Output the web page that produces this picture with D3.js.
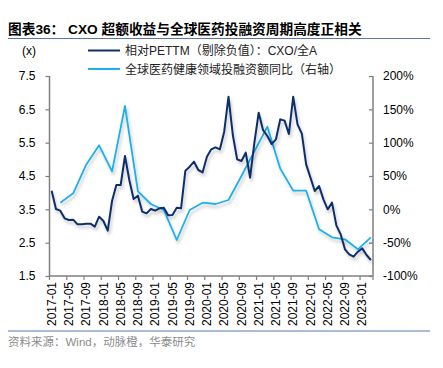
<!DOCTYPE html>
<html>
<head>
    <meta charset="utf-8">
    <title>CXO</title>
    <script src="https://d3js.org/d3.v7.min.js"></script>
    <style>
        body { margin: 0; background: #fff; }
        text { font-family: "Liberation Sans", Arial, "Noto Sans CJK SC", sans-serif; }
    </style>
</head>
<body>
    <svg width="443" height="368" id="mainSvg"></svg>
    <script>
        // months 2017-01 .. 2023-03 (category axis)
        const months = d3.utcMonth.range(new Date(Date.UTC(2017, 0, 1)), new Date(Date.UTC(2023, 3, 1)))
            .map(d3.utcFormat("%Y-%m"));

        // relative PE TTM, CXO / all A, monthly
        const relPE = [
            4.06, 3.51, 3.46, 3.23, 3.18, 3.19, 3.05, 3.05, 3.07, 3.07, 2.98, 3.28,
            3.15, 2.86, 3.75, 4.23, 4.23, 5.10, 4.38, 3.81, 3.91, 3.43, 3.38, 3.51,
            3.46, 3.53, 3.55, 3.32, 3.33, 3.55, 3.53, 4.66, 4.78, 4.93, 4.68, 4.61,
            5.08, 5.30, 5.36, 5.30, 5.83, 6.88, 5.73, 5.00, 4.95, 5.20, 4.45, 5.50,
            6.40, 5.88, 5.70, 5.46, 5.60, 6.20, 6.16, 5.76, 6.88, 6.05, 5.77, 4.85,
            4.45, 4.05, 4.20, 3.80, 3.50, 3.70, 3.02, 2.75, 2.30, 2.15, 2.08, 2.23,
            2.33, 2.13, 1.98
        ];

        // global healthcare financing yoy (right axis), quarterly
        const finMonths = [
            "2017-03", "2017-06", "2017-09", "2017-12", "2018-03", "2018-06", "2018-09", "2018-12",
            "2019-03", "2019-06", "2019-09", "2019-12", "2020-03", "2020-06", "2020-09", "2020-12",
            "2021-03", "2021-06", "2021-09", "2021-12", "2022-03", "2022-06", "2022-09", "2022-12",
            "2023-03"
        ];
        const finYoY = [
            10, 24, 67, 96, 57, 155, 27, 8,
            -1, -46, -1, 10, 8, 14, 50, 87,
            124, 61, 28, 28, -30, -42, -45, -60,
            -42
        ];

        const leftTicks = [1.5, 2.5, 3.5, 4.5, 5.5, 6.5, 7.5];
        const rightTicks = [-100, -50, 0, 50, 100, 150, 200];

        const svg = d3.select("#mainSvg");
        const navy = "#0f2f6b";
        const sky = "#1fb0ea";
        const axisColor = "#7f7f7f";
        const cjk = "'Noto Sans CJK SC', sans-serif";

        const plot = { left: 49.5, right: 373, top: 76, bottom: 276 };

        const x = d3.scaleBand().domain(months).range([plot.left, plot.right]);
        const xc = m => x(m) + x.bandwidth() / 2;
        const yL = d3.scaleLinear().domain([1.5, 7.5]).range([plot.bottom, plot.top]);
        const yR = d3.scaleLinear().domain([-100, 200]).range([plot.bottom, plot.top]);

        const defs = svg.append("defs");
        defs.append("filter").attr("id", "shadow")
            .attr("x", "-10%").attr("y", "-10%").attr("width", "120%").attr("height", "130%")
            .append("feDropShadow")
            .attr("dx", 1.5).attr("dy", 3).attr("stdDeviation", 1.6)
            .attr("flood-color", "#000").attr("flood-opacity", 0.22);

        // title
        svg.append("text")
            .attr("x", 8).attr("y", 34)
            .attr("font-family", cjk)
            .attr("font-size", 13.7).attr("font-weight", "bold").attr("fill", "#000")
            .text("图表36： CXO 超额收益与全球医药投融资周期高度正相关");
        svg.append("line")
            .attr("x1", 8).attr("x2", 430).attr("y1", 38.5).attr("y2", 38.5)
            .attr("stroke", "#5876ad").attr("stroke-width", 1);

        // axes
        const gl = svg.append("g").attr("transform", `translate(${plot.left},0)`)
            .call(d3.axisLeft(yL).tickValues(leftTicks).tickFormat(d3.format(".1f")).tickSize(4).tickPadding(10));
        const gr = svg.append("g").attr("transform", `translate(${plot.right},0)`)
            .call(d3.axisRight(yR).tickValues(rightTicks).tickFormat(d => d + "%").tickSize(-4).tickPadding(10));
        const gb = svg.append("g").attr("transform", `translate(0,${plot.bottom})`)
            .call(d3.axisBottom(x).tickValues(months.filter((m, i) => i % 4 === 0)).tickSize(0).tickPadding(0));

        [gl, gr, gb].forEach(g => {
            g.select(".domain").attr("stroke", axisColor).attr("stroke-width", 1.5);
            g.selectAll(".tick line").attr("stroke", axisColor).attr("stroke-width", 1.2);
            g.selectAll(".tick text").attr("fill", "#000").attr("font-size", 12)
                .attr("font-family", "'Liberation Sans', Arial, sans-serif");
        });
        gl.select(".domain").attr("d", `M0,${plot.top}V${plot.bottom}`);
        gr.select(".domain").attr("d", `M0,${plot.top}V${plot.bottom}`);
        gb.select(".domain").attr("d", `M${plot.left},0H${plot.right}`);

        gb.selectAll(".tick text")
            .attr("transform", "rotate(-90)")
            .attr("text-anchor", "end")
            .attr("x", -6).attr("y", 0).attr("dy", "0.35em");

        // category boundary ticks on bottom axis
        gb.selectAll(".boundTick")
            .data(months.filter((m, i) => i % 4 === 0))
            .join("line")
            .attr("class", "boundTick")
            .attr("x1", d => x(d)).attr("x2", d => x(d))
            .attr("y1", 0).attr("y2", 4)
            .attr("stroke", axisColor).attr("stroke-width", 1.2);
        gb.append("line")
            .attr("x1", plot.right).attr("x2", plot.right).attr("y1", 0).attr("y2", 4)
            .attr("stroke", axisColor).attr("stroke-width", 1.2);

        // lines
        const finData = finMonths.map((m, i) => ({ m: m, v: finYoY[i] }));
        svg.append("path")
            .datum(finData)
            .attr("fill", "none").attr("stroke", sky).attr("stroke-width", 1.8)
            .attr("stroke-linejoin", "round")
            .attr("filter", "url(#shadow)")
            .attr("d", d3.line().x(d => xc(d.m)).y(d => yR(d.v)));

        const peData = months.map((m, i) => ({ m: m, v: relPE[i] }));
        svg.append("path")
            .datum(peData)
            .attr("fill", "none").attr("stroke", navy).attr("stroke-width", 2)
            .attr("stroke-linejoin", "round")
            .attr("filter", "url(#shadow)")
            .attr("d", d3.line().x(d => xc(d.m)).y(d => yL(d.v)));

        // legend
        svg.append("text").attr("x", 22).attr("y", 55).attr("font-size", 12).attr("fill", "#000").text("(x)");
        const legend = [
            { label: "相对PETTM（剔除负值）：CXO/全A", color: navy, y: 50.5 },
            { label: "全球医药健康领域投融资额同比（右轴）", color: sky, y: 69 }
        ];
        const lg = svg.selectAll(".legend").data(legend).join("g").attr("class", "legend");
        lg.append("line")
            .attr("x1", 88).attr("x2", 120).attr("y1", d => d.y).attr("y2", d => d.y)
            .attr("stroke", d => d.color).attr("stroke-width", 2);
        lg.append("text")
            .attr("x", 125).attr("y", d => d.y + 4.5)
            .attr("font-size", 12).attr("fill", "#222")
            .attr("font-family", "'Liberation Sans', Arial, 'Noto Sans CJK SC', sans-serif")
            .text(d => d.label);

        // source
        svg.append("line")
            .attr("x1", 8).attr("x2", 430).attr("y1", 331).attr("y2", 331)
            .attr("stroke", "#5876ad").attr("stroke-width", 1);
        svg.append("text")
            .attr("x", 8).attr("y", 346)
            .attr("font-size", 11.5).attr("fill", "#8c8c8c")
            .attr("font-family", "'Liberation Sans', Arial, 'Noto Sans CJK SC', sans-serif")
            .text("资料来源：Wind，动脉橙，华泰研究");
    </script>
</body>
</html>
